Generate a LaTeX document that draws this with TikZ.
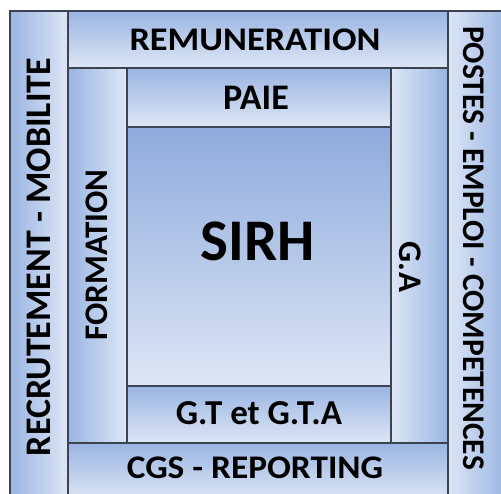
\documentclass[tikz,border=0pt]{standalone}
\usepackage{fontspec}
\setmainfont{Carlito}
\definecolor{bandDark}{HTML}{9AB5E2}
\definecolor{bandLight}{HTML}{DDE6F5}
\definecolor{sirhDark}{HTML}{8EAADC}
\definecolor{edge}{HTML}{3B4250}
\tikzset{
  band/.style={draw=edge, line width=1.5pt},
  vband/.style={band, top color=bandDark, bottom color=bandLight},
  lband/.style={band, left color=bandDark, right color=bandLight},
  rband/.style={band, left color=bandLight, right color=bandDark},
  lbl/.style={font=\bfseries\fontsize{33}{33}\selectfont, inner sep=0pt},
}

\begin{document}
\begin{tikzpicture}[x=1pt,y=-1pt]
   \useasboundingbox (0,0) rectangle (501,494);
   \clip (0,0) rectangle (501,494);
   \fill[white] (0,0) rectangle (501,494);
   % outer ring
   \draw[lband] (10,11) rectangle (68,500);
   \draw[rband] (448,11) rectangle (507,500);
   \draw[vband] (68,11) rectangle (448,68);
   \draw[vband] (68,443) rectangle (448,500);
   % inner ring
   \draw[lband] (68,68) rectangle (127,443);
   \draw[rband] (391,68) rectangle (448,443);
   \draw[vband] (127,68) rectangle (391,127);
   \draw[vband] (127,386) rectangle (391,443);
   \draw[band, top color=sirhDark, bottom color=bandLight] (127,127) rectangle (391,386);
   % labels
   \node[lbl] (remu) at (255,40) {\scalebox{1.1}[1]{REMUNERATION}};
   \node[lbl, font=\bfseries\fontsize{36}{36}\selectfont] (paie) at (256,98) {PAIE};
   \node[lbl, font=\bfseries\fontsize{59}{59}\selectfont] (sirh) at (258,241) {SIRH};
   \node[lbl, font=\bfseries\fontsize{35}{35}\selectfont] (gt) at (259,413) {G.T et G.T.A};
   \node[lbl] (cgs) at (255,468) {\scalebox{1.07}[1]{CGS - REPORTING}};
   \node[lbl, rotate=90, font=\bfseries\fontsize{36}{36}\selectfont] (recr) at (39,257) {RECRUTEMENT - MOBILITE};
   \node[lbl, rotate=90] (form) at (97,255) {FORMATION};
   \node[lbl, rotate=-90] (ga) at (410,267) {G.A};
   \node[lbl, rotate=-90, font=\bfseries\fontsize{31.5}{31.5}\selectfont] (postes) at (474,248) {POSTES - EMPLOI - COMPETENCES};
\end{tikzpicture}
\end{document}
